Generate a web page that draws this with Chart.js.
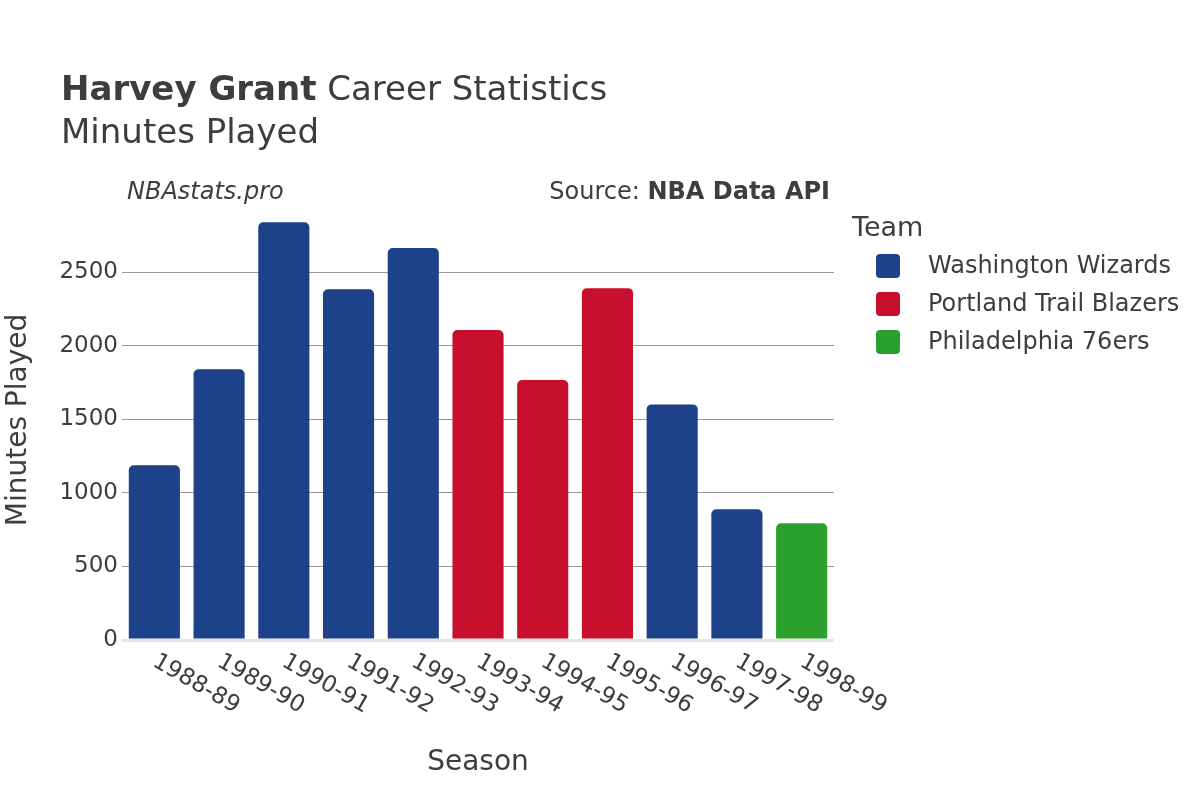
<!DOCTYPE html>
<html>
<head>
<meta charset="utf-8">
<script src="https://cdn.jsdelivr.net/npm/chart.js@4.4.1/dist/chart.umd.min.js"></script>
<style>
  html, body { margin: 0; padding: 0; background: #fff; }
  #wrap { width: 1200px; height: 800px; position: relative; }
</style>
</head>
<body>
<div id="wrap"><canvas id="minutesChart" width="1200" height="800"></canvas></div>
<script>
const seasons = ["1988-89", "1989-90", "1990-91", "1991-92", "1992-93", "1993-94",
                 "1994-95", "1995-96", "1996-97", "1997-98", "1998-99"];
const minutes = [1188, 1840, 2838, 2384, 2663, 2107, 1767, 2391, 1601, 889, 793];
const seasonTeams = ["Washington Wizards", "Washington Wizards", "Washington Wizards",
                     "Washington Wizards", "Washington Wizards", "Portland Trail Blazers",
                     "Portland Trail Blazers", "Portland Trail Blazers", "Washington Wizards",
                     "Washington Wizards", "Philadelphia 76ers"];
const teams = ["Washington Wizards", "Portland Trail Blazers", "Philadelphia 76ers"];
const teamColors = ["#1d428a", "#c8102e", "#2ca02c"];
const yTicks = [0, 500, 1000, 1500, 2000, 2500];

const colorFor = team => teamColors[teams.indexOf(team)];
const textColor = "#3d3d3d";
const font = "DejaVu Sans";

// titles, legend, rotated season labels and axis titles
const decorations = {
    id: "decorations",
    afterDraw(chart) {
        const ctx = chart.ctx;
        const area = chart.chartArea;
        const xScale = chart.scales.x;
        ctx.save();
        ctx.fillStyle = textColor;
        ctx.textAlign = "left";
        ctx.textBaseline = "alphabetic";

        // title
        ctx.font = `bold 34px "${font}"`;
        ctx.fillText("Harvey Grant", 61, 100);
        const w = ctx.measureText("Harvey Grant").width;
        ctx.font = `34px "${font}"`;
        ctx.fillText(" Career Statistics", 61 + w, 100);
        ctx.fillText("Minutes Played", 61, 143);

        // subtitle row
        ctx.font = `italic 24px "${font}"`;
        ctx.fillText("NBAstats.pro", 127, 199);
        ctx.font = `bold 24px "${font}"`;
        const boldW = ctx.measureText("NBA Data API").width;
        ctx.fillText("NBA Data API", 830 - boldW, 199);
        ctx.font = `24px "${font}"`;
        ctx.textAlign = "right";
        ctx.fillText("Source: ", 830 - boldW, 199);

        // x tick labels, rotated
        ctx.font = `23px "${font}"`;
        ctx.textAlign = "left";
        ctx.textBaseline = "middle";
        seasons.forEach((s, i) => {
            const x = xScale.getPixelForTick(i);
            ctx.save();
            ctx.translate(x, area.bottom + 20);
            ctx.rotate(Math.PI / 6);
            ctx.fillText(s, 0, 0);
            ctx.restore();
        });

        // axis titles
        ctx.font = `28px "${font}"`;
        ctx.textAlign = "center";
        ctx.textBaseline = "alphabetic";
        ctx.fillText("Season", (area.left + area.right) / 2, 770);
        ctx.save();
        ctx.translate(26, (area.top + area.bottom) / 2);
        ctx.rotate(-Math.PI / 2);
        ctx.fillText("Minutes Played", 0, 0);
        ctx.restore();

        // legend
        ctx.textAlign = "left";
        ctx.font = `27px "${font}"`;
        ctx.fillText("Team", 852, 236);
        ctx.font = `24px "${font}"`;
        ctx.textBaseline = "middle";
        teams.forEach((t, i) => {
            const cy = 266 + i * 38;
            ctx.fillStyle = teamColors[i];
            ctx.beginPath();
            ctx.roundRect(876, cy - 12, 24, 24, 4);
            ctx.fill();
            ctx.fillStyle = textColor;
            ctx.fillText(t, 928, cy + 1);
        });
        ctx.restore();
    }
};

const config = {
    type: "bar",
    data: {
        labels: seasons,
        datasets: [{
            label: "Minutes Played",
            data: minutes,
            backgroundColor: seasonTeams.map(colorFor),
            borderRadius: { topLeft: 5, topRight: 5 },
            borderSkipped: "bottom",
            barPercentage: 0.79,
            categoryPercentage: 1.0,
        }]
    },
    options: {
        responsive: false,
        animation: false,
        layout: { padding: { top: 200, right: 366, bottom: 160, left: 0 } },
        plugins: {
            legend: { display: false },
            tooltip: { enabled: false },
        },
        scales: {
            x: {
                ticks: { display: false },
                grid: { display: false },
                border: { display: false },
                afterFit: scale => { scale.height = 0; },
            },
            y: {
                min: 0,
                max: 2990,
                afterFit: scale => { scale.width = 122; },
                afterBuildTicks: scale => { scale.ticks = yTicks.map(v => ({ value: v })); },
                ticks: {
                    padding: 4,
                    color: textColor,
                    font: { family: font, size: 23 },
                    callback: v => String(v),
                },
                grid: {
                    drawTicks: false,
                    color: c => c.tick && c.tick.value === 0 ? "#e4e4e4" : "#9a9a9a",
                    lineWidth: c => c.tick && c.tick.value === 0 ? 3 : 1,
                },
                border: { display: false },
            }
        }
    },
    plugins: [decorations]
};

new Chart(document.getElementById("minutesChart"), config);
</script>
</body>
</html>
